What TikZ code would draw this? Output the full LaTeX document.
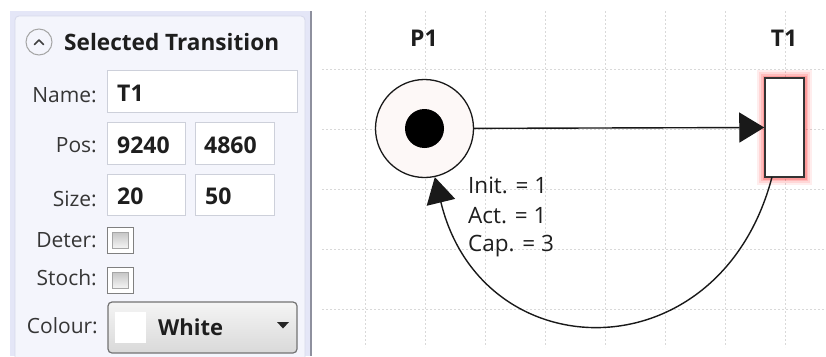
\documentclass[tikz,border=0pt]{standalone}
\usepackage{fontspec}
\setmainfont{Open Sans}
\usetikzlibrary{arrows.meta,calc,shapes.geometric}
\definecolor{bandc}{HTML}{E4E6F7}
\definecolor{panelc}{HTML}{F4F5FC}
\definecolor{panelb}{HTML}{D6D9EA}
\definecolor{sepc}{HTML}{8E909E}
\definecolor{boxb}{HTML}{CDD0DA}
\definecolor{gridc}{HTML}{D9D9D9}
\definecolor{placec}{HTML}{FDF8F7}
\definecolor{textc}{HTML}{1E1E1E}
\tikzset{
  lbl/.style={anchor=east,inner sep=0,font=\fontsize{21}{24}\selectfont,text=textc!90},
  tbox/.style={draw=boxb,fill=white,line width=0.8pt},
  tval/.style={anchor=west,inner sep=0,font=\fontsize{23}{26}\selectfont\bfseries,text=textc},
  gridline/.style={gridc,line width=0.8pt,dash pattern=on 2pt off 2pt},
  arclbl/.style={anchor=west,inner sep=0,font=\fontsize{22.5}{26}\selectfont,text=textc},
  netlbl/.style={inner sep=0,font=\fontsize{23}{26}\selectfont\bfseries,text=textc},
  chk/.style={draw=black!50,line width=1.2pt,fill=white},
  arc/.style={line width=1.4pt,draw=black!90},
}
\begin{document}
\begin{tikzpicture}[x=1pt,y=-1pt]
\useasboundingbox (0,0) rectangle (826,356);
\fill[white] (0,0) rectangle (826,356);
% ---------- left panel
\fill[bandc] (10,11) rectangle (311,356);
\draw[panelb,fill=panelc,line width=0.8pt,rounded corners=4pt] (15,16) -- (305,16) -- (305,362) -- (15,362) -- cycle;
\draw[sepc,line width=2pt] (311,11) -- (311,356);
% header
\node[circle,draw=black!35,line width=1pt,minimum size=26pt,inner sep=0] (hdricon) at (39,42) {};
\draw[black!75,line width=1.6pt,line cap=round,line join=round] ($(hdricon)+(-4.5,2.5)$) -- ($(hdricon)+(0,-2)$) -- ($(hdricon)+(4.5,2.5)$);
\node[anchor=west,inner sep=0,font=\fontsize{22.6}{25}\selectfont\bfseries,text=textc] (hdr) at (64,42) {Selected Transition};
% Name
\node[lbl] (lname) at (97,95) {Name:};
\draw[tbox] (107,70) rectangle (297,112);
\node[tval] (vname) at (117,93.5) {T1};
% Pos
\node[lbl] (lpos) at (97,145) {Pos:};
\draw[tbox] (107,122) rectangle (185,164);
\draw[tbox] (195,122) rectangle (274,164);
\node[tval] (vpos1) at (117,145) {9240};
\node[tval] (vpos2) at (204,145) {4860};
% Size
\node[lbl] (lsize) at (97,199) {Size:};
\draw[tbox] (107,174) rectangle (185,215);
\draw[tbox] (195,174) rectangle (274,215);
\node[tval] (vsize1) at (117,196.7) {20};
\node[tval] (vsize2) at (205,196.7) {50};
% Checkboxes
\node[lbl] (ldeter) at (97,240) {Deter:};
\node[lbl] (lstoch) at (97,278) {Stoch:};
\foreach \yy in {227,267}{
  \draw[chk] (107.5,\yy+0.5) rectangle (133.5,\yy+26.5);
  \shade[top color=black!22,bottom color=black!4] (112.5,\yy+5.5) rectangle (128.5,\yy+21.5);
  \draw[black!35,line width=0.8pt] (112.5,\yy+5.5) rectangle (128.5,\yy+21.5);
}
% Colour combo
\node[lbl] (lcol) at (98,326) {Colour:};
\shade[top color=black!4,bottom color=black!15,rounded corners=4pt] (108,302) rectangle (297,353);
\draw[black!55,line width=1.2pt,rounded corners=4pt] (108,302) rectangle (297,353);
\fill[white] (115,312) rectangle (146,343);
\node[tval,font=\fontsize{22}{25}\selectfont\bfseries] (vcol) at (158,327) {White};
\fill[black!85] (277,322) -- (289,322) -- (283,328.5) -- cycle;
% ---------- grid
\foreach \xx in {365,425,...,785}{\draw[gridline] (\xx,11) -- (\xx,347);}
\foreach \yy in {69,129,...,309}{\draw[gridline] (322,\yy) -- (826,\yy);}
% ---------- Petri net
\node[netlbl] (lp1) at (424,38) {P1};
\node[netlbl] (lt1) at (784,38) {T1};
\node[circle,draw=black!90,line width=1.3pt,fill=placec,minimum size=98pt,inner sep=0] (p1) at (424.5,128.5) {};
\node[circle,fill=black,minimum size=39pt,inner sep=0] (tok) at (424.5,128.5) {};
% glow
\foreach \w/\op in {16/0.07,12/0.09,8/0.12,5/0.18,2.5/0.25}{
  \draw[red,opacity=\op,line width=\w pt] (765,78) rectangle (804,177);
}
\node[draw=black!80,fill=white,line width=1.5pt,minimum width=39pt,minimum height=99pt,inner sep=0] (t1) at (784.5,127.5) {};
\draw[arc,-{Triangle[length=25pt,width=30pt]}] (p1) -- (t1.west);
\coordinate (cs) at (772,177);
\draw[arc,-{Triangle[length=26pt,width=29pt]}] (cs) .. controls (720,375) and (482,372) .. (p1.-78);
\node[arclbl] (ai) at (468,185) {Init. = 1};
\node[arclbl] (aa) at (468,216) {Act. = 1};
\node[arclbl] (ac) at (468,246) {Cap. = 3};
\end{tikzpicture}
\end{document}
